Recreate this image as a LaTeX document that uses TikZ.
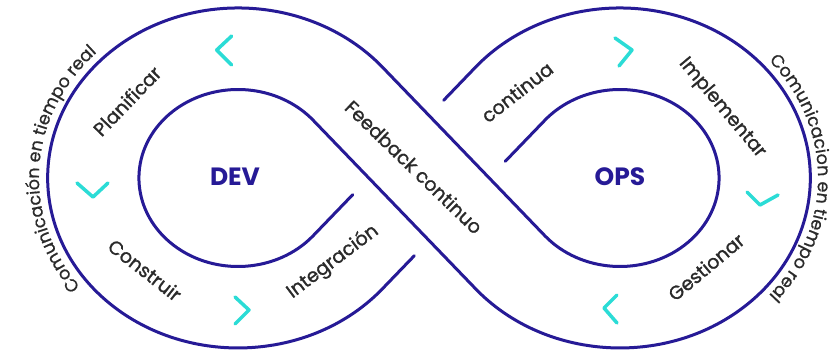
\documentclass[tikz,border=0pt]{standalone}
\usepackage{fontspec}
\setmainfont{Poppins}
\newfontfamily\popmed{Poppins}[FakeBold=1.2]
\newfontfamily\popout{Poppins}[FakeBold=0.7]
\usetikzlibrary{decorations.text}
\definecolor{navy}{HTML}{261A96}
\definecolor{chev}{HTML}{2BDCD6}
\definecolor{txt}{HTML}{2A2A2A}
\begin{document}
\begin{tikzpicture}[x=1pt,y=1pt,
  band/.style={draw=navy, line width=3pt, line cap=round, line join=round},
  chevron/.style={draw=chev, line width=3.5pt, line cap=round, line join=round},
  lbl/.style={text=txt, font=\popmed\fontsize{19}{19}\selectfont, inner sep=0pt},
  loopname/.style={text=navy, font=\bfseries\fontsize{25}{25}\selectfont, inner sep=0pt}]
\useasboundingbox[fill=white] (0,0) rectangle (833,351);

\begin{scope}[shift={(429,173)}]
\draw[band] (-14.64,-77.67) -- (-46.63,-110.84)
  arc[start angle=-40.71, end angle=-319.29, x radius=190.4, y radius=170]
  -- (115.82,-57.72)
  arc[start angle=220.71, end angle=499.29, x radius=99.12, y radius=88.5]
  -- (76.23,16.63);
\draw[band] (-76.23,-16.63) -- (-115.82,-57.72)
  arc[start angle=-40.71, end angle=-319.29, x radius=99.12, y radius=88.5]
  -- (46.63,-110.84)
  arc[start angle=220.71, end angle=499.29, x radius=190.4, y radius=170]
  -- (14.64,77.67);
\end{scope}

% chevrons
\draw[chevron] (231.7,315) -- (216.7,301) -- (231.7,286);
\draw[chevron] (77,168) -- (93,154) -- (108,168);
\draw[chevron] (235,54) -- (249,41) -- (235,27);
\draw[chevron] (615,313) -- (632,301) -- (619,285);
\draw[chevron] (747,159) -- (760,146) -- (778,156);
\draw[chevron] (617,56) -- (604,43) -- (617,28);

% loop names
\node[loopname] (dev) at (235,174) {DEV};
\node[loopname] (ops) at (620,174) {OPS};

% labels
\node[lbl, rotate=46] (plan) at (127,250) {Planificar};
\node[lbl, rotate=-38] (cons) at (145,81) {Construir};
\node[lbl, rotate=37] (integ) at (333,89) {Integración};
\node[lbl, rotate=-44] (feed) at (414,184) {Feedback continuo};
\node[lbl, rotate=38] (cont) at (517,259) {continua};
\node[lbl, rotate=-50] (impl) at (722,243) {Implementar};
\node[lbl, rotate=40] (gest) at (706,84) {Gestionar};

% curved outer texts
\path[decorate, decoration={text along path, text color=txt,
   text={|\popout\fontsize{17.5}{17.5}\selectfont|Comunicación en tiempo real}, text align=center}]
  (126.7,25.4) arc[start angle=236, end angle=117, x radius=199, y radius=178];
\path[decorate, decoration={text along path, text color=txt,
   text={|\popout\fontsize{17.5}{17.5}\selectfont|Comunicacion en tiempo real}, text align=center}]
  (719,327.2) arc[start angle=60, end angle=-60, x radius=198, y radius=178];
\end{tikzpicture}
\end{document}
